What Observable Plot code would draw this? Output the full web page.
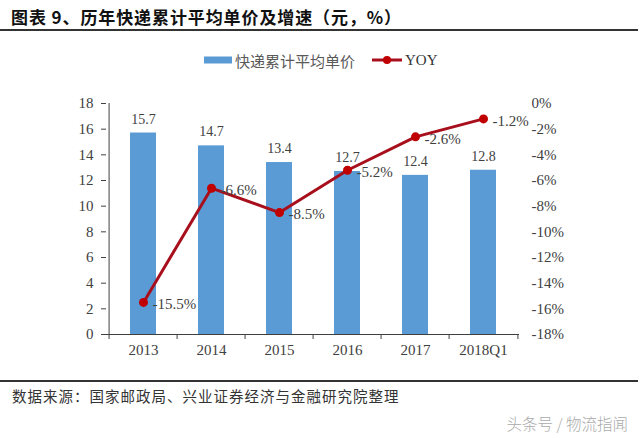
<!DOCTYPE html>
<html><head><meta charset="utf-8">
<script src="https://cdn.jsdelivr.net/npm/d3@7"></script>
<script src="https://cdn.jsdelivr.net/npm/@observablehq/plot@0.6"></script>
<style>
html,body{margin:0;padding:0;background:#fff;}
body{width:640px;height:438px;position:relative;overflow:hidden;}
.abs{position:absolute;}
#title{left:11px;top:7px;font-family:"Noto Sans CJK SC",sans-serif;font-weight:bold;font-size:17px;line-height:20px;color:#111;white-space:nowrap;letter-spacing:0.9px;}
#rule1{left:0;top:29px;width:638px;height:2px;background:#333;}
#legend{left:204px;top:50px;height:20px;display:flex;align-items:center;white-space:nowrap;}
#chart{left:0;top:85px;}
#rule2{left:0;top:380px;width:638px;height:2px;background:#333;}
#caption{left:12px;top:387px;font-family:"Noto Sans CJK SC",sans-serif;font-size:14.5px;line-height:18px;color:#333;white-space:nowrap;letter-spacing:1px;}
#mark{right:12px;top:414px;font-family:"Noto Sans CJK SC",sans-serif;font-weight:300;font-size:15.5px;line-height:18px;color:#aaa;white-space:nowrap;}
</style>
</head><body>
<div id="title" class="abs"></div>
<div id="rule1" class="abs"></div>
<div id="legend" class="abs"></div>
<div id="chart" class="abs"></div>
<div id="rule2" class="abs"></div>
<div id="caption" class="abs"></div>
<div id="mark" class="abs"></div>
<script>
const titleText = "图表 9、历年快递累计平均单价及增速（元，%）";
const captionText = "数据来源：国家邮政局、兴业证券经济与金融研究院整理";
const watermarkText = "头条号 / 物流指闻";
const seriesNames = ["快递累计平均单价", "YOY"];
const categories = ["2013", "2014", "2015", "2016", "2017", "2018Q1"];
const unitPrice = [15.7, 14.7, 13.4, 12.7, 12.4, 12.8];
const yoy = [-15.5, -6.6, -8.5, -5.2, -2.6, -1.2];
const priceTicks = [0, 2, 4, 6, 8, 10, 12, 14, 16, 18];
const yoyTicks = [-18, -16, -14, -12, -10, -8, -6, -4, -2, 0];

const barColor = "#5b9bd5", lineColor = "#a80f1c", dotColor = "#c00000", ink = "#404040";

document.getElementById("title").textContent = titleText;
document.getElementById("caption").textContent = captionText;
document.getElementById("mark").textContent = watermarkText;

const legend = document.getElementById("legend");
legend.innerHTML =
  `<svg width="28" height="8"><rect width="28" height="7" y="0.5" fill="${barColor}"/></svg>` +
  `<span style="margin-left:3px;font-family:'Noto Sans CJK SC';font-size:15px;color:#595959">${seriesNames[0]}</span>` +
  `<svg style="margin-left:17px" width="30" height="10"><line x1="0" x2="30" y1="5" y2="5" stroke="${lineColor}" stroke-width="3"/><circle cx="15" cy="5" r="4" fill="${dotColor}"/></svg>` +
  `<span style="margin-left:3px;font-family:'Liberation Serif',serif;font-size:15px;color:#333">${seriesNames[1]}</span>`;

const data = categories.map((c, i) => ({cat: c, price: unitPrice[i], yoy: yoy[i]}));
const W = 640, H = 280, ML = 106, MR = 121, MT = 18, MB = 31;
const step = (W - ML - MR) / categories.length;
const yoyToY = d3.scaleLinear([d3.min(yoyTicks), d3.max(yoyTicks)], [d3.min(priceTicks), d3.max(priceTicks)]);
const yMin = d3.min(priceTicks), yMax = d3.max(priceTicks);

const chart = Plot.plot({
  width: W, height: H,
  marginLeft: ML, marginRight: MR, marginTop: MT, marginBottom: MB,
  style: {fontFamily: "'Liberation Serif', 'Times New Roman', serif", fontSize: "15px", color: ink, background: "transparent", overflow: "visible"},
  x: {domain: categories, paddingInner: 0.62, paddingOuter: 0.31, axis: null},
  y: {domain: [yMin, yMax], axis: null},
  marks: [
    Plot.barY(data, {x: "cat", y: "price", fill: barColor}),
    Plot.ruleY([yMin], {stroke: ink}),
    Plot.ruleX([categories[0]], {dx: -step / 2, y1: yMin, y2: yMax, stroke: ink}),
    Plot.ruleX(categories, {dx: -step / 2, y1: yMin, y2: yMin, insetBottom: -5, stroke: ink}),
    Plot.ruleX([categories[categories.length - 1]], {dx: step / 2, y1: yMin, y2: yMin, insetBottom: -5, stroke: ink}),
    Plot.axisY({ticks: priceTicks, anchor: "left", tickSize: 5, tickPadding: 8, tickFormat: d => String(d), label: null, stroke: ink}),
    Plot.axisY({ticks: yoyTicks.map(v => yoyToY(v)), anchor: "right", tickSize: 0, tickPadding: 12, tickFormat: d => `${Math.round(yoyToY.invert(d)) || 0}%`, label: null}),
    Plot.axisX({tickSize: 0, tickPadding: 10, label: null}),
    Plot.text(data, {x: "cat", y: "price", text: d => d.price.toFixed(1), dy: -14, fontSize: 14, fill: ink}),
    Plot.line(data, {x: "cat", y: d => yoyToY(d.yoy), stroke: lineColor, strokeWidth: 3}),
    Plot.dot(data, {x: "cat", y: d => yoyToY(d.yoy), r: 4.5, fill: dotColor}),
    Plot.text(data, {x: "cat", y: d => yoyToY(d.yoy), text: d => `${d.yoy.toFixed(1)}%`, textAnchor: "start", dx: 9, dy: 2, fill: ink})
  ]
});
document.getElementById("chart").appendChild(chart);
</script>
</body></html>
